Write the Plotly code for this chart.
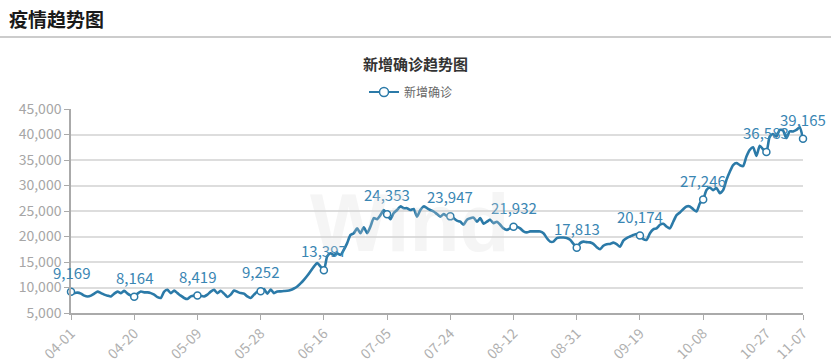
import pandas as pd
import plotly.graph_objects as go

# ---- data ----
dates = pd.date_range("2022-04-01", "2022-11-07", freq="D").strftime("%m-%d").tolist()

values = [
    9169, 8900, 9000, 8800, 8400, 8250, 8400, 8800, 9200, 8900,
    8600, 8400, 8250, 8800, 9200, 8900, 9350, 8800, 8400, 8164,
    8800, 9200, 9050, 9050, 8900, 8600, 8100, 7950, 9200, 9550,
    8900, 9400, 8900, 8400, 7950, 7750, 8250, 8400, 8419,
    8350, 8250, 8600, 9200, 9550, 8900, 9350, 8800, 8150, 8600,
    9400, 9150, 8900, 8800, 8250, 7950, 8600, 9200, 9252,
    9700, 8800, 9600, 8900, 9200, 9250, 9300, 9350, 9500, 9800,
    10200, 10800, 11500, 12300, 13200, 14100, 14800, 14100, 13397,
    16100, 16700, 16400, 16700, 16400, 17400, 18700, 20300, 20650, 21600,
    20650, 21800, 20650, 21950, 23600, 23400, 24200, 25200, 24353,
    23400, 24600, 25200, 25900, 25550, 25550, 25200, 25400, 23900, 25200,
    25900, 25550, 25200, 24900, 24400, 23900, 24400, 24000, 23947,
    23600, 23100, 22900, 22300, 23300, 23600, 23700, 22900, 23600, 22500,
    22900, 23300, 22600, 22900, 22300, 21600, 21300, 21600, 21932,
    21900, 21600, 21000, 20800, 21000, 21000, 21000, 21000, 20650, 19700,
    19000, 19000, 19700, 19800, 19800, 19700, 19350, 18550, 17813,
    18700, 19000, 18900, 18850, 18550, 17900, 17500, 18200, 18500, 18550,
    18800, 18500, 18000, 19200, 19700, 20000, 20300, 20500, 20174,
    19500, 19350, 20650, 21400, 21600, 22300, 22500, 21950, 21600, 22900,
    24200, 24700, 25350, 25900, 25900, 25350, 24900, 26500, 27246,
    29100, 29600, 29100, 29500, 28500, 29100, 31100, 32700, 34000, 34400,
    34000, 33800, 35700, 37000, 37500, 35800, 37800, 37100, 36583,
    39600, 40100, 39600, 40900, 40800, 39300, 40600, 40600, 40900, 41400,
    39165,
]

label_idx = [0, 19, 38, 57, 76, 95, 114, 133, 152, 171, 190, 209, 220]
series_name = "新增确诊"
page_title = "疫情趋势图"
chart_title = "新增确诊趋势图"

# ---- style ----
LINE = "#2b7aa8"
LABEL = "#3a86b3"
AXIS = "#aaaaaa"
FONT = "Noto Sans CJK SC"

W, H = 831, 362
L, R, T, B = 71, 28, 109, 49
pw, ph = W - L - R, H - T - B


def px_x(p):
    return (p - L) / pw


def px_y(p):
    return (H - B - p) / ph


fig = go.Figure()

fig.add_trace(go.Scatter(
    x=dates, y=values, mode="lines",
    line=dict(color=LINE, width=2.6, shape="spline", smoothing=0.6),
    showlegend=False, hoverinfo="skip",
))

lx = [dates[i] for i in label_idx]
ly = [values[i] for i in label_idx]
fig.add_trace(go.Scatter(
    x=lx, y=ly, mode="markers",
    marker=dict(symbol="circle", size=7, color="white", line=dict(color=LINE, width=1.5)),
    showlegend=False, cliponaxis=False,
))

fig.add_trace(go.Scatter(
    x=[None], y=[None], mode="lines+markers", name=series_name,
    line=dict(color=LINE, width=2),
    marker=dict(symbol="circle", size=9, color="white", line=dict(color=LINE, width=1.5)),
))

annotations = [
    dict(text=f"{v:,}", x=xv, y=v, xref="x", yref="y", showarrow=False,
         xanchor="center", yanchor="bottom", yshift=7,
         font=dict(color=LABEL, size=15, family=FONT))
    for xv, v in zip(lx, ly)
]
annotations += [
    dict(text=f"<b>{page_title}</b>", xref="paper", yref="paper",
         x=px_x(7), y=px_y(18), xanchor="left", yanchor="middle",
         showarrow=False, font=dict(size=19, color="#1a1a1a", family=FONT)),
    dict(text=f"<b>{chart_title}</b>", xref="paper", yref="paper",
         x=px_x(415), y=px_y(64), xanchor="center", yanchor="middle",
         showarrow=False, font=dict(size=15, color="#333333", family=FONT)),
    dict(text="<b>Wind</b>", xref="paper", yref="paper",
         x=px_x(410), y=px_y(222), xanchor="center", yanchor="middle",
         showarrow=False, opacity=0.25,
         font=dict(size=82, color="#d8d8d8", family="Liberation Sans")),
]

fig.update_layout(
    width=W, height=H,
    margin=dict(l=L, r=R, t=T, b=B, autoexpand=False),
    paper_bgcolor="white", plot_bgcolor="white",
    font=dict(family=FONT, color="#666"),
    legend=dict(orientation="h", x=px_x(411), xanchor="center", y=px_y(92), yanchor="middle",
                font=dict(size=12, color="#666"), bgcolor="rgba(0,0,0,0)"),
    xaxis=dict(
        type="category", range=[0, len(dates) - 1], automargin=False,
        tickmode="array", tickvals=lx, ticktext=lx,
        tickangle=-45, ticks="outside", ticklen=5, tickcolor=AXIS,
        showline=True, linecolor=AXIS, linewidth=1.5,
        showgrid=False, zeroline=False,
        tickfont=dict(size=14, color="#b0b0b0", family=FONT),
    ),
    yaxis=dict(
        range=[5000, 45000], dtick=5000, tickformat=",", automargin=False,
        ticks="outside", ticklen=5, tickcolor=AXIS,
        showline=True, linecolor=AXIS, linewidth=1.5,
        showgrid=True, gridcolor="#dddddd", gridwidth=1.5, zeroline=False,
        tickfont=dict(size=14, color="#a6a6a6", family=FONT),
    ),
    shapes=[dict(type="line", xref="paper", yref="paper",
                 x0=px_x(0), x1=px_x(W), y0=px_y(37), y1=px_y(37),
                 line=dict(color="#cccccc", width=2))],
    annotations=annotations,
)

fig.write_html("out.html")
